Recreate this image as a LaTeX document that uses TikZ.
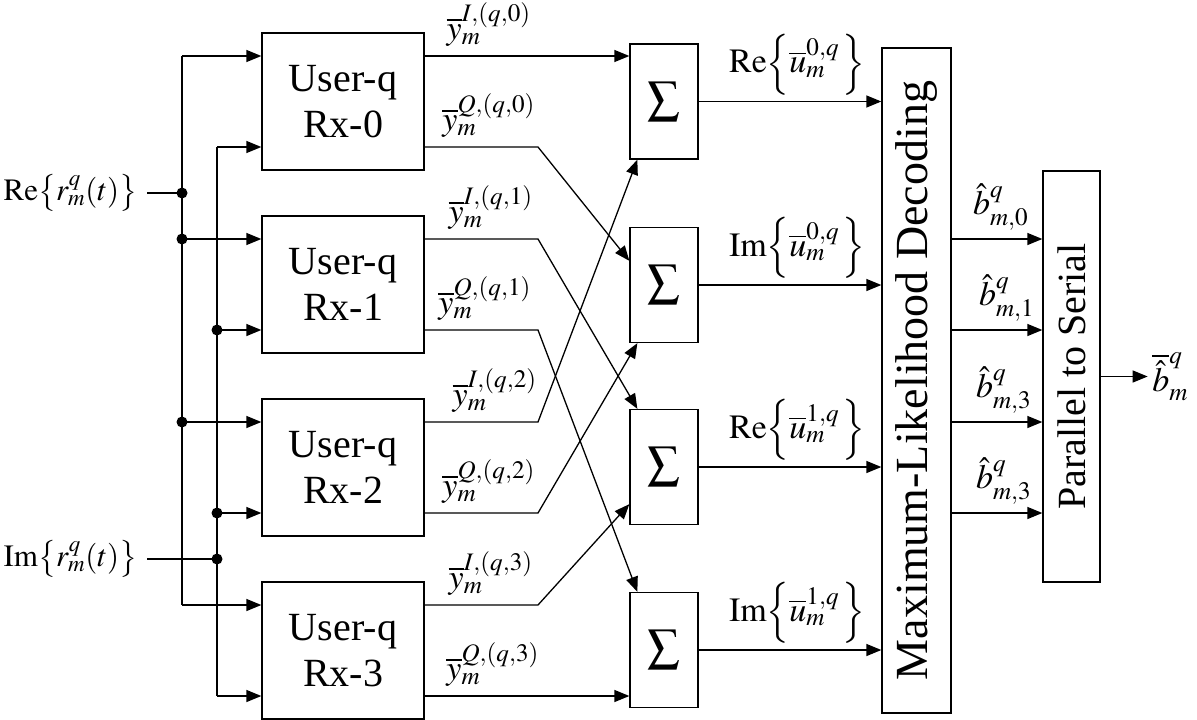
\documentclass[tikz,border=0pt]{standalone}
\usepackage{mathptmx}
\usepackage{fontspec}
\setmainfont{Liberation Serif}
\usetikzlibrary{arrows.meta,calc}
\begin{document}
\begin{tikzpicture}[x=1pt,y=-1pt,line width=1.3pt,
  ubox/.style={draw, minimum width=162pt, minimum height=137pt, align=center, inner sep=0pt, font=\fontsize{40}{46}\selectfont},
  sbox/.style={draw, minimum width=68pt, minimum height=115pt, inner sep=0pt, font=\fontsize{46}{46}\selectfont},
  lab/.style={inner sep=0pt, font=\fontsize{34}{38}\selectfont},
  inlab/.style={inner sep=0pt, font=\fontsize{31}{34}\selectfont},
  dotn/.style={circle, fill=black, draw=none, inner sep=0pt, minimum size=11pt},
  arr/.style={-{Triangle[length=15pt,width=12pt]}}]
\useasboundingbox (0,0) rectangle (1197,720);

% user-q boxes
\node[ubox] (u0) at (343,101.5) {User-q\\Rx-0};
\node[ubox] (u1) at (343,284.5) {User-q\\Rx-1};
\node[ubox] (u2) at (343,467.5) {User-q\\Rx-2};
\node[ubox] (u3) at (343,650.5) {User-q\\Rx-3};

% sum boxes
\node[sbox] (s0) at (664,101.5) {$\sum$};
\node[sbox] (s1) at (664,285) {$\sum$};
\node[sbox] (s2) at (664,467) {$\sum$};
\node[sbox] (s3) at (664,650) {$\sum$};

% ML and P/S boxes
\node[draw, minimum width=69pt, minimum height=665pt, inner sep=0pt] (ml) at (916.5,380.5) {};
\node[rotate=90, inner sep=0pt, font=\fontsize{46}{46}\selectfont] (mltext) at (ml.center) {Maximum-Likelihood Decoding};
\node[draw, minimum width=57pt, minimum height=411pt, inner sep=0pt] (ps) at (1071.5,376.5) {};
\node[rotate=90, inner sep=0pt, font=\fontsize{40}{40}\selectfont] (pstext) at (ps.center) {Parallel to Serial};

% input/output points of user boxes
\foreach \k in {0,1,2,3}{
  \coordinate (i\k a) at ($(u\k.west)+(0,-45.5)$);
  \coordinate (i\k b) at ($(u\k.west)+(0,45.5)$);
  \coordinate (o\k a) at ($(u\k.east)+(0,-45.5)$);
  \coordinate (o\k b) at ($(u\k.east)+(0,45.5)$);
}
\coordinate (rebus) at (182,0);
\coordinate (imbus) at (217,0);
\coordinate (bend) at (538,0);

% inputs
\node[inlab, anchor=east] (relab) at (138,193) {$\mathrm{Re}\!\left\{r_m^q(t)\right\}$};
\node[inlab, anchor=east] (imlab) at (138,559) {$\mathrm{Im}\!\left\{r_m^q(t)\right\}$};
\coordinate (rein) at (147,193);
\coordinate (imin) at (147,559);

\draw (i0a -| rebus) -- (i3a -| rebus);
\draw (i0b -| imbus) -- (i3b -| imbus);
\draw (rein) -- (rein -| rebus);
\draw (imin) -- (imin -| imbus);
\foreach \k in {0,1,2,3}{
  \draw[arr] (i\k a -| rebus) -- (i\k a);
  \draw[arr] (i\k b -| imbus) -- (i\k b);
}
\node[dotn] (dre) at (rein -| rebus) {};
\node[dotn] (dr1) at (i1a -| rebus) {};
\node[dotn] (dr2) at (i2a -| rebus) {};
\node[dotn] (dim) at (imin -| imbus) {};
\node[dotn] (di1) at (i1b -| imbus) {};
\node[dotn] (di2) at (i2b -| imbus) {};

% user outputs to sums
\draw[arr] (o0a) -- (o0a -| s0.west);
\draw[arr] (o0b) -- (o0b -| bend) -- ($(s1.north west)+(0,34)$);
\draw[arr] (o1a) -- (o1a -| bend) -- ($(s2.north west)+(8,0)$);
\draw[arr] (o1b) -- (o1b -| bend) -- ($(s3.north west)+(8,0)$);
\draw[arr] (o2a) -- (o2a -| bend) -- ($(s0.south west)+(8,0)$);
\draw[arr] (o2b) -- (o2b -| bend) -- ($(s1.south west)+(8,0)$);
\draw[arr] (o3a) -- (o3a -| bend) -- ($(s2.south west)+(0,-21)$);
\draw[arr] (o3b) -- (o3b -| s3.west);

% y labels
\node[lab, anchor=south] (y0i) at ($(o0a)+(64,-9)$) {$\overline{y}_m^{I,(q,0)}$};
\node[lab, anchor=south] (y0q) at ($(o0b)+(64,-9)$) {$\overline{y}_m^{Q,(q,0)}$};
\node[lab, anchor=south] (y1i) at ($(o1a)+(66,-9)$) {$\overline{y}_m^{I,(q,1)}$};
\node[lab, anchor=south] (y1q) at ($(o1b)+(60,-9)$) {$\overline{y}_m^{Q,(q,1)}$};
\node[lab, anchor=south] (y2i) at ($(o2a)+(70,-9)$) {$\overline{y}_m^{I,(q,2)}$};
\node[lab, anchor=south] (y2q) at ($(o2b)+(64,-9)$) {$\overline{y}_m^{Q,(q,2)}$};
\node[lab, anchor=south] (y3i) at ($(o3a)+(66,-9)$) {$\overline{y}_m^{I,(q,3)}$};
\node[lab, anchor=south] (y3q) at ($(o3b)+(68,-9)$) {$\overline{y}_m^{Q,(q,3)}$};

% sums to ML
\foreach \k in {0,1,2,3}{
  \draw[arr] (s\k.east) -- (s\k.east -| ml.west);
}
\node[lab, anchor=south] (u0l) at ($(s0.east)!0.54!(s0.east -| ml.west)+(0,-6)$) {$\mathrm{Re}\!\left\{\overline{u}_m^{0,q}\,\right\}$};
\node[lab, anchor=south] (u1l) at ($(s1.east)!0.54!(s1.east -| ml.west)+(0,-6)$) {$\mathrm{Im}\!\left\{\overline{u}_m^{0,q}\,\right\}$};
\node[lab, anchor=south] (u2l) at ($(s2.east)!0.54!(s2.east -| ml.west)+(0,-6)$) {$\mathrm{Re}\!\left\{\overline{u}_m^{1,q}\,\right\}$};
\node[lab, anchor=south] (u3l) at ($(s3.east)!0.54!(s3.east -| ml.west)+(0,-6)$) {$\mathrm{Im}\!\left\{\overline{u}_m^{1,q}\,\right\}$};

% ML to P/S
\coordinate (b0) at (ml.east |- i1a);
\coordinate (b1) at (ml.east |- i1b);
\coordinate (b2) at (ml.east |- i2a);
\coordinate (b3) at (ml.east |- i2b);
\foreach \k in {0,1,2,3}{
  \draw[arr] (b\k) -- (b\k -| ps.west);
}
\node[lab, anchor=south] (lb0) at ($(b0)+(49,-8)$) {$\hat{b}_{m,0}^{q}$};
\node[lab, anchor=south] (lb1) at ($(b1)+(55,-8)$) {$\hat{b}_{m,1}^{q}$};
\node[lab, anchor=south] (lb2) at ($(b2)+(52,-8)$) {$\hat{b}_{m,3}^{q}$};
\node[lab, anchor=south] (lb3) at ($(b3)+(52,-8)$) {$\hat{b}_{m,3}^{q}$};

% output
\coordinate (outend) at ($(ps.east)+(47,0)$);
\draw[arr] (ps.east) -- (outend);
\node[lab, anchor=west] (outlab) at ($(outend)+(4,0)$) {$\overline{\hat{b}}_m^{q}$};
\end{tikzpicture}
\end{document}
